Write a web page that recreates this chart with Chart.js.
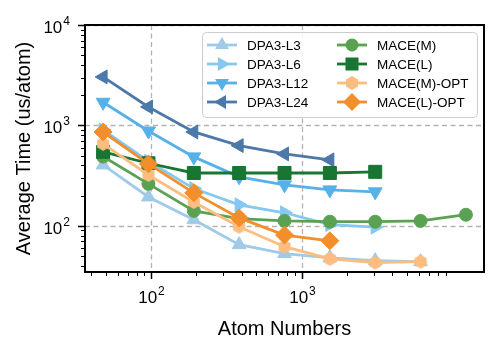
<!DOCTYPE html>
<html>
<head>
<meta charset="utf-8">
<script src="https://cdn.jsdelivr.net/npm/chart.js@4.4.0/dist/chart.umd.min.js"></script>
<style>
  html, body { margin: 0; padding: 0; background: #fff; }
</style>
</head>
<body>
<canvas id="graficoTempo" width="498" height="354"></canvas>
<script>
// Dados (tempo médio por átomo, us/atom)
const atomNumbers = [48, 96, 192, 384, 768, 1536, 3072, 6144, 12288];

const dpa3L3 = [404, 194, 115, 65, 53, 48, 45, 44];
const dpa3L6 = [900, 440, 235, 162, 135, 103, 97];
const dpa3L12 = [1700, 880, 486, 308, 256, 228, 218];
const dpa3L24 = [3040, 1528, 861, 630, 520, 454];
const maceM = [490, 262, 141, 118, 112, 110, 110, 112, 129];
const maceL = [545, 420, 336, 336, 336, 336, 345];
const maceMOpt = [655, 321, 173, 98, 62, 47, 43, 44];
const maceLOpt = [860, 414, 213, 120, 81, 71];

// Marcas dos eixos
const xMajorTicks = [100, 1000];
const yMajorTicks = [100, 1000, 10000];
const minorMult = [2, 3, 4, 5, 6, 7, 8, 9];

const fonte = '"Liberation Sans", Arial, Helvetica, sans-serif';

// marcador hexagonal (não existe no Chart.js)
function hexagono(cor, r) {
    const c = document.createElement('canvas');
    const s = Math.ceil(2 * r + 4);
    c.width = s; c.height = s;
    const g = c.getContext('2d');
    g.beginPath();
    for (let i = 0; i < 6; i++) {
        const a = -Math.PI / 2 + i * Math.PI / 3;
        const px = s / 2 + r * Math.cos(a), py = s / 2 + r * Math.sin(a);
        if (i) g.lineTo(px, py); else g.moveTo(px, py);
    }
    g.closePath();
    g.fillStyle = cor; g.fill();
    return c;
}

const series = [
    { label: 'DPA3-L3', valores: dpa3L3, cor: '#9fcbe9', estilo: 'triangle', rot: 0, r: 8 },
    { label: 'DPA3-L6', valores: dpa3L6, cor: '#85c9f0', estilo: 'triangle', rot: 90, r: 8 },
    { label: 'DPA3-L12', valores: dpa3L12, cor: '#56b1e8', estilo: 'triangle', rot: 180, r: 8 },
    { label: 'DPA3-L24', valores: dpa3L24, cor: '#4b79aa', estilo: 'triangle', rot: 270, r: 8 },
    { label: 'MACE(M)', valores: maceM, cor: '#5ba152', estilo: 'circle', rot: 0, r: 6.5 },
    { label: 'MACE(L)', valores: maceL, cor: '#187632', estilo: 'rect', rot: 0, r: 9.2 },
    { label: 'MACE(M)-OPT', valores: maceMOpt, cor: '#fdbd80', estilo: 'hex', rot: 0, r: 7 },
    { label: 'MACE(L)-OPT', valores: maceLOpt, cor: '#f28e2c', estilo: 'rectRot', rot: 0, r: 9 }
];

series.forEach(s => { if (s.estilo === 'hex') s.img = hexagono(s.cor, s.r); });

const datasets = series.map((s, i) => ({
    label: s.label,
    data: s.valores.map((v, k) => ({ x: atomNumbers[k], y: v })),
    borderColor: s.cor,
    backgroundColor: s.cor,
    borderWidth: 2.8,
    pointStyle: s.img || s.estilo,
    pointRotation: s.rot,
    pointRadius: s.r,
    pointBorderWidth: 1,
    pointBorderColor: s.cor,
    pointBackgroundColor: s.cor,
    tension: 0,
    order: series.length - i
}));

function desenhaMarcador(ctx, s, x, y) {
    ctx.save();
    ctx.fillStyle = s.cor;
    ctx.beginPath();
    if (s.estilo === 'triangle') {
        let rad = s.rot * Math.PI / 180;
        for (let i = 0; i < 3; i++) {
            const px = x + Math.sin(rad) * s.r, py = y - Math.cos(rad) * s.r;
            if (i) ctx.lineTo(px, py); else ctx.moveTo(px, py);
            rad += 2 * Math.PI / 3;
        }
        ctx.closePath(); ctx.fill();
    } else if (s.estilo === 'circle') {
        ctx.arc(x, y, s.r, 0, 2 * Math.PI); ctx.fill();
    } else if (s.estilo === 'rect') {
        const h = s.r * Math.SQRT1_2;
        ctx.rect(x - h, y - h, 2 * h, 2 * h); ctx.fill();
    } else if (s.estilo === 'rectRot') {
        ctx.moveTo(x, y - s.r); ctx.lineTo(x + s.r, y); ctx.lineTo(x, y + s.r); ctx.lineTo(x - s.r, y);
        ctx.closePath(); ctx.fill();
    } else if (s.img) {
        ctx.drawImage(s.img, x - s.img.width / 2, y - s.img.height / 2);
    }
    ctx.restore();
}

function potencia(ctx, v, x, y, alinhar) {
    // escreve 10^k com expoente elevado
    const k = String(Math.round(Math.log10(v)));
    ctx.font = '17px ' + fonte;
    const wb = ctx.measureText('10').width;
    ctx.font = '12px ' + fonte;
    const we = ctx.measureText(k).width;
    const total = wb + we + 1;
    let x0 = alinhar === 'center' ? x - total / 2 : x - total;
    ctx.textAlign = 'left';
    ctx.textBaseline = 'alphabetic';
    ctx.font = '17px ' + fonte;
    ctx.fillText('10', x0, y);
    ctx.font = '12px ' + fonte;
    ctx.fillText(k, x0 + wb + 1, y - 8);
}

const moldura = {
    id: 'moldura',
    beforeDatasetsDraw(chart) {
        const { ctx, chartArea: a, scales } = chart;
        ctx.save();
        ctx.strokeStyle = '#b3b3b3';
        ctx.lineWidth = 1.3;
        ctx.setLineDash([5, 3.5]);
        xMajorTicks.forEach(v => {
            const px = Math.round(scales.x.getPixelForValue(v)) + 0.5;
            ctx.beginPath(); ctx.moveTo(px, a.top); ctx.lineTo(px, a.bottom); ctx.stroke();
        });
        yMajorTicks.forEach(v => {
            const py = Math.round(scales.y.getPixelForValue(v)) + 0.5;
            ctx.beginPath(); ctx.moveTo(a.left, py); ctx.lineTo(a.right, py); ctx.stroke();
        });
        ctx.restore();
    },
    afterDraw(chart) {
        const { ctx, chartArea: a, scales } = chart;
        ctx.save();
        ctx.fillStyle = '#000';
        ctx.strokeStyle = '#000';

        // marcas menores
        const decadas = [10, 100, 1000];
        ctx.lineWidth = 1;
        decadas.forEach(d => minorMult.forEach(m => {
            const v = d * m;
            if (v > scales.x.min && v < scales.x.max) {
                const px = Math.round(scales.x.getPixelForValue(v)) + 0.5;
                ctx.beginPath(); ctx.moveTo(px, a.bottom); ctx.lineTo(px, a.bottom + 4); ctx.stroke();
            }
            if (v > scales.y.min && v < scales.y.max) {
                const py = Math.round(scales.y.getPixelForValue(v)) + 0.5;
                ctx.beginPath(); ctx.moveTo(a.left, py); ctx.lineTo(a.left - 4, py); ctx.stroke();
            }
        }));
        // marcas maiores + rótulos
        ctx.lineWidth = 1.5;
        xMajorTicks.forEach(v => {
            const px = Math.round(scales.x.getPixelForValue(v)) + 0.5;
            ctx.beginPath(); ctx.moveTo(px, a.bottom); ctx.lineTo(px, a.bottom + 7); ctx.stroke();
            potencia(ctx, v, px, a.bottom + 31, 'center');
        });
        yMajorTicks.forEach(v => {
            const py = Math.round(scales.y.getPixelForValue(v)) + 0.5;
            ctx.beginPath(); ctx.moveTo(a.left, py); ctx.lineTo(a.left - 7, py); ctx.stroke();
            potencia(ctx, v, a.left - 15, py + 7, 'right');
        });

        // moldura
        ctx.lineWidth = 2;
        ctx.strokeRect(a.left, a.top, a.right - a.left, a.bottom - a.top);

        // títulos dos eixos
        ctx.font = '20px ' + fonte;
        ctx.textAlign = 'center';
        ctx.textBaseline = 'middle';
        ctx.fillText('Atom Numbers', (a.left + a.right) / 2, 329);
        ctx.save();
        ctx.translate(24, (a.top + a.bottom) / 2);
        ctx.rotate(-Math.PI / 2);
        ctx.fillText('Average Time (us/atom)', 0, 0);
        ctx.restore();

        // legenda em duas colunas
        const lx = 202, ly = 32, lw = 275, lh = 85;
        ctx.fillStyle = 'rgba(255,255,255,0.85)';
        ctx.strokeStyle = '#cccccc';
        ctx.lineWidth = 1;
        ctx.beginPath();
        ctx.roundRect(lx + 0.5, ly + 0.5, lw, lh, 4);
        ctx.fill(); ctx.stroke();
        ctx.font = '13.5px ' + fonte;
        ctx.textAlign = 'left';
        ctx.textBaseline = 'middle';
        series.forEach((s, i) => {
            const col = Math.floor(i / 4), row = i % 4;
            const x0 = 207 + col * 130, y0 = 45 + row * 19;
            ctx.strokeStyle = s.cor;
            ctx.lineWidth = 2.8;
            ctx.beginPath(); ctx.moveTo(x0, y0); ctx.lineTo(x0 + 30, y0); ctx.stroke();
            desenhaMarcador(ctx, s, x0 + 15, y0);
            ctx.fillStyle = '#000';
            ctx.fillText(s.label, x0 + 40, y0 + 1);
        });
        ctx.restore();
    }
};

const ctx = document.getElementById('graficoTempo').getContext('2d');
const graficoTempo = new Chart(ctx, {
    type: 'line',
    data: { datasets: datasets },
    options: {
        responsive: false,
        animation: false,
        events: [],
        devicePixelRatio: 1,
        layout: { padding: { left: 85, right: 14, top: 25, bottom: 82 } },
        scales: {
            x: { type: 'logarithmic', min: 36.4, max: 16200, display: false },
            y: { type: 'logarithmic', min: 34.7, max: 10000, display: false }
        },
        plugins: {
            legend: { display: false },
            tooltip: { enabled: false }
        }
    },
    plugins: [moldura]
});
</script>
</body>
</html>
